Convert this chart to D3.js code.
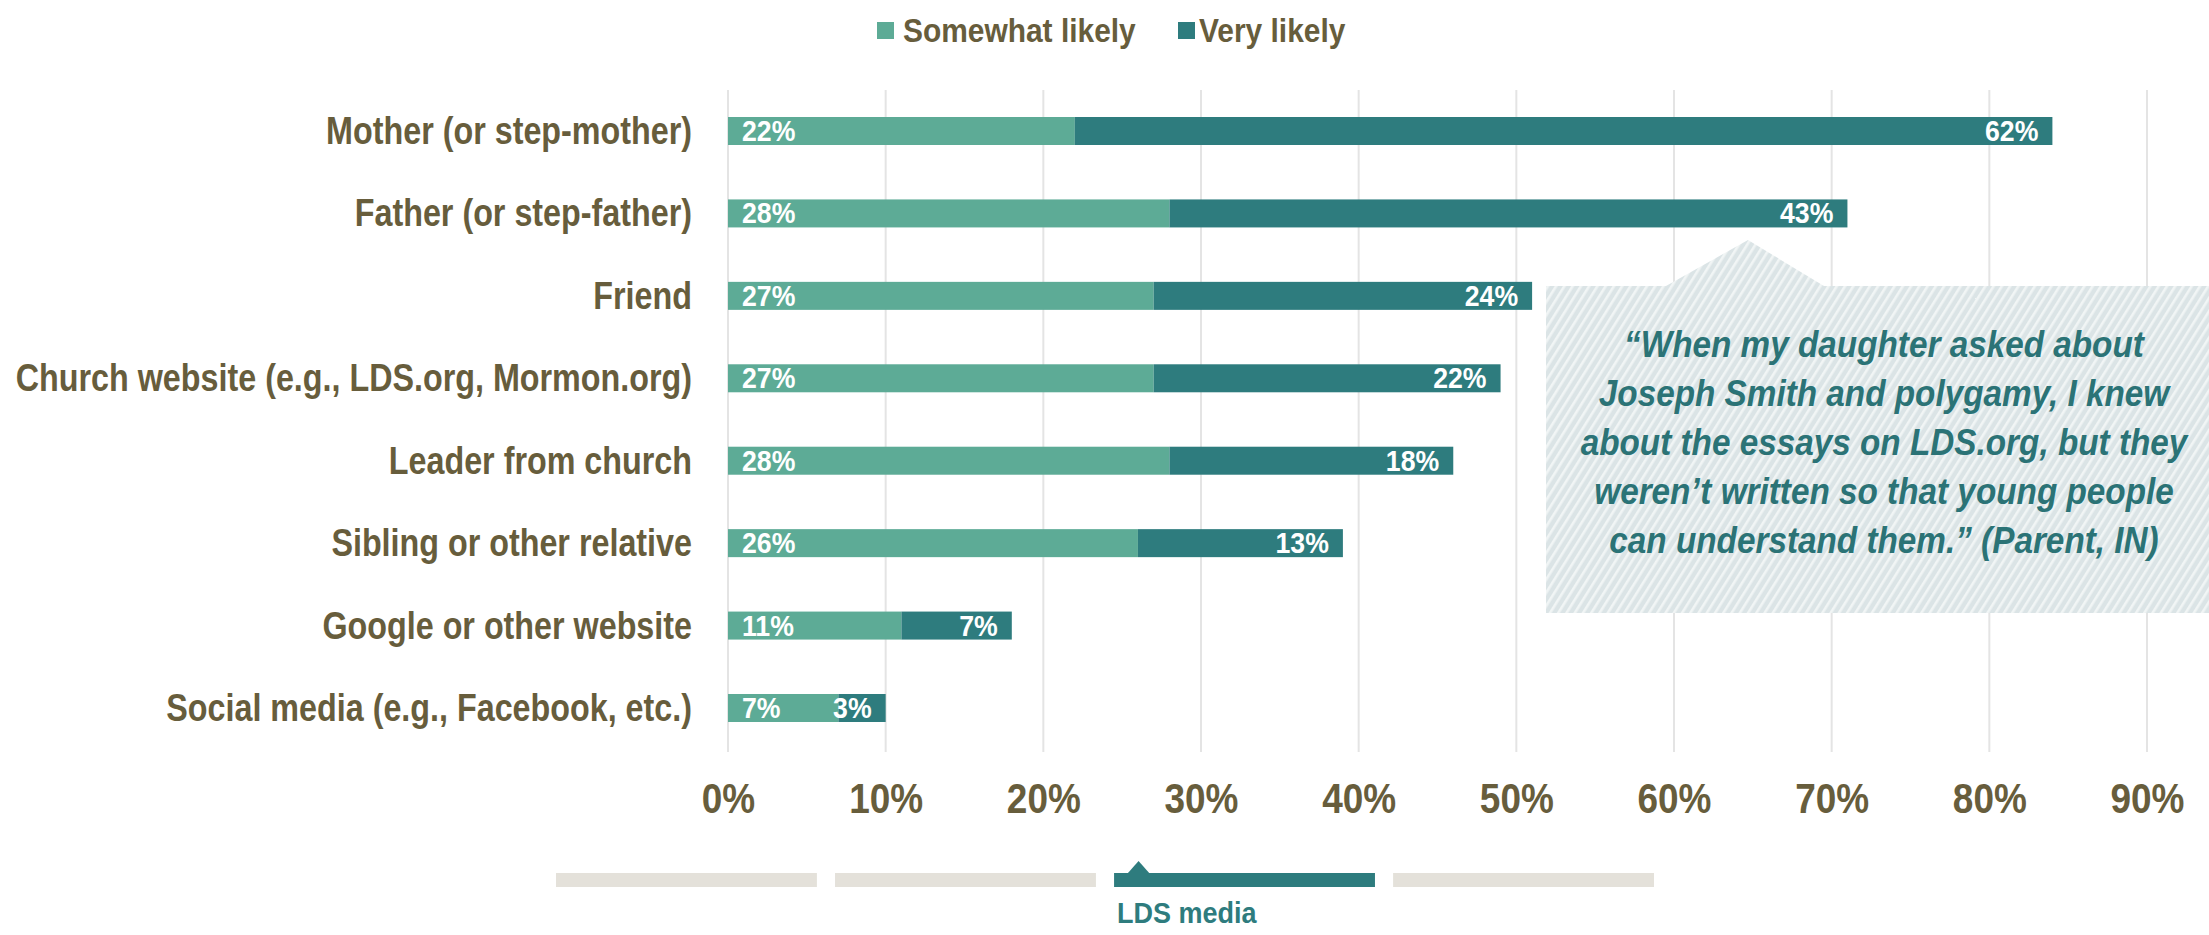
<!DOCTYPE html>
<html>
<head>
<meta charset="utf-8">
<script src="https://cdn.jsdelivr.net/npm/d3@7"></script>
<style>
  html, body { margin: 0; padding: 0; background: #ffffff; }
  svg { display: block; }
  text { font-family: "Liberation Sans", Arial, sans-serif; font-weight: bold; }
</style>
</head>
<body>
<svg id="chart" width="2209" height="935"></svg>
<script>
// Sources youth would turn to with questions, stacked: somewhat + very likely (%)
const categories = [
  "Mother (or step-mother)",
  "Father (or step-father)",
  "Friend",
  "Church website (e.g., LDS.org, Mormon.org)",
  "Leader from church",
  "Sibling or other relative",
  "Google or other website",
  "Social media (e.g., Facebook, etc.)"
];
const somewhatLikely = [22, 28, 27, 27, 28, 26, 11, 7];
const veryLikely     = [62, 43, 24, 22, 18, 13, 7, 3];
const seriesNames = ["Somewhat likely", "Very likely"];
const xTicks = [0, 10, 20, 30, 40, 50, 60, 70, 80, 90];

const quoteLines = [
  "\u201CWhen my daughter asked about",
  "Joseph Smith and polygamy, I knew",
  "about the essays on LDS.org, but they",
  "weren\u2019t written so that young people",
  "can understand them.\u201D (Parent, IN)"
];

const navSections = ["", "", "LDS media", ""];
const activeSection = 2;

const C = {
  somewhat: "#5dab96",
  very: "#2e7c7e",
  label: "#675d3c",
  grid: "#e4e4e4",
  navGray: "#e4e1da",
  quote: "#2b7376",
  boxBase: "#dbe4e6",
  boxStripe: "#f1f5f5"
};

const svg = d3.select("#chart");

const x = d3.scaleLinear().domain([0, 90]).range([728, 2147]);
const y = d3.scalePoint().domain(categories).range([131, 708]);
const barH = 28;
const gridTop = 90, gridBottom = 752;

// vertical gridlines
svg.append("g").selectAll("line")
  .data(xTicks)
  .join("line")
  .attr("x1", d => x(d)).attr("x2", d => x(d))
  .attr("y1", gridTop).attr("y2", gridBottom)
  .attr("stroke", C.grid).attr("stroke-width", 2);

// x-axis labels (condensed bold)
const xAxis = d3.axisBottom(x)
  .tickValues(xTicks)
  .tickFormat(d => d + "%")
  .tickSize(0)
  .tickPadding(0);
const axisG = svg.append("g").attr("transform", "translate(0,783)").call(xAxis);
axisG.select(".domain").remove();
axisG.selectAll("text")
  .attr("dy", "0.71em")
  .attr("transform", "scale(0.88,1)")
  .attr("fill", C.label)
  .style("font-size", "42px")
  .style("font-family", "'Liberation Sans', Arial, sans-serif")
  .style("font-weight", "bold");

// stacked bars
const rows = categories.map((c, i) => ({ cat: c, s: somewhatLikely[i], v: veryLikely[i] }));
const barG = svg.append("g");
const row = barG.selectAll("g.row").data(rows).join("g").attr("class", "row");

row.append("rect")
  .attr("x", d => x(0))
  .attr("y", d => y(d.cat) - barH / 2)
  .attr("width", d => x(d.s) - x(0))
  .attr("height", barH)
  .attr("fill", C.somewhat);

row.append("rect")
  .attr("x", d => x(d.s))
  .attr("y", d => y(d.cat) - barH / 2)
  .attr("width", d => x(d.s + d.v) - x(d.s))
  .attr("height", barH)
  .attr("fill", C.very);

row.append("text")
  .attr("transform", d => `translate(${x(0) + 14},${y(d.cat) + 10}) scale(0.92,1)`)
  .attr("fill", "#ffffff")
  .style("font-size", "29px")
  .text(d => d.s + "%");

row.append("text")
  .attr("transform", d => `translate(${x(d.s + d.v) - 14},${y(d.cat) + 10}) scale(0.92,1)`)
  .attr("text-anchor", "end")
  .attr("fill", "#ffffff")
  .style("font-size", "29px")
  .text(d => d.v + "%");

// category labels
svg.append("g").selectAll("text")
  .data(categories)
  .join("text")
  .attr("transform", d => `translate(692,${y(d) + 13}) scale(0.85,1)`)
  .attr("text-anchor", "end")
  .attr("fill", C.label)
  .style("font-size", "38px")
  .text(d => d);

// legend
const legend = svg.append("g");
const legendItems = [
  { name: seriesNames[0], color: C.somewhat, sx: 877, tx: 903 },
  { name: seriesNames[1], color: C.very, sx: 1178, tx: 1199 }
];
legend.selectAll("rect").data(legendItems).join("rect")
  .attr("x", d => d.sx).attr("y", 22)
  .attr("width", 17).attr("height", 17)
  .attr("fill", d => d.color);
legend.selectAll("text").data(legendItems).join("text")
  .attr("transform", d => `translate(${d.tx},42) scale(0.88,1)`)
  .attr("fill", C.label)
  .style("font-size", "34px")
  .text(d => d.name);

// quote callout with hatched fill
const defs = svg.append("defs");
const pat = defs.append("pattern")
  .attr("id", "hatch")
  .attr("patternUnits", "userSpaceOnUse")
  .attr("width", 7).attr("height", 7)
  .attr("patternTransform", "rotate(32)");
pat.append("rect").attr("width", 7).attr("height", 7).attr("fill", C.boxBase);
pat.append("rect").attr("x", 0).attr("width", 2.6).attr("height", 7).attr("fill", C.boxStripe);

const boxL = 1546, boxT = 286, boxR = 2209, boxB = 613;
const tip = { x: 1748, y: 240 }, baseL = 1666, baseR = 1824;
const calloutPath = d3.path();
calloutPath.moveTo(boxL, boxT);
calloutPath.lineTo(baseL, boxT);
calloutPath.lineTo(tip.x, tip.y);
calloutPath.lineTo(baseR, boxT);
calloutPath.lineTo(boxR, boxT);
calloutPath.lineTo(boxR, boxB);
calloutPath.lineTo(boxL, boxB);
calloutPath.closePath();
svg.append("path").attr("d", calloutPath.toString()).attr("fill", "url(#hatch)");

const quoteCx = 1884;
svg.append("g").selectAll("text")
  .data(quoteLines)
  .join("text")
  .attr("transform", (d, i) => `translate(${quoteCx},${357 + i * 49}) scale(0.9,1)`)
  .attr("text-anchor", "middle")
  .attr("fill", C.quote)
  .style("font-size", "37px")
  .style("font-style", "italic")
  .text(d => d);

// section navigation strip
const nav = d3.scaleBand().domain(d3.range(navSections.length)).range([556, 1654]).paddingInner(0.065);
const navG = svg.append("g");
navG.selectAll("rect").data(navSections).join("rect")
  .attr("x", (d, i) => nav(i))
  .attr("y", 873)
  .attr("width", nav.bandwidth())
  .attr("height", 14)
  .attr("fill", (d, i) => i === activeSection ? C.very : C.navGray);

const ax = nav(activeSection);
navG.append("path")
  .attr("d", `M${ax + 13},874 L${ax + 24.5},861 L${ax + 36},874 Z`)
  .attr("fill", C.very);
navG.append("text")
  .attr("transform", `translate(${ax + 3},923) scale(0.9,1)`)
  .attr("fill", C.very)
  .style("font-size", "30px")
  .text(navSections[activeSection]);
</script>
</body>
</html>
